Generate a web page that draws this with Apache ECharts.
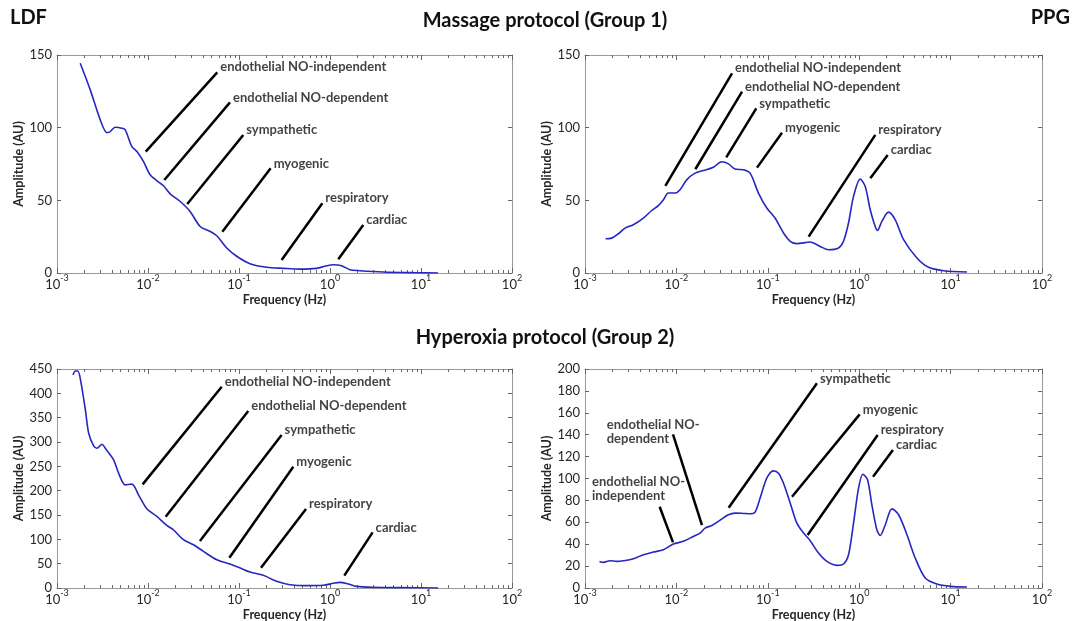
<!DOCTYPE html>
<html><head><meta charset="utf-8">
<script src="https://cdn.jsdelivr.net/npm/echarts@6/dist/echarts.min.js"></script>
<style>html,body{margin:0;padding:0;background:#fff}#c{width:1077px;height:621px}</style>
</head><body><div id="c"></div>
<script>
// ---------- data ----------
const freqLdfMassage = [0.0018,0.00232,0.00299,0.00354,0.00385,0.00436,0.00516,0.00562,0.00665,0.00755,0.00893,0.01056,0.0136,0.0148,0.0175,0.0226,0.029,0.0374,0.0482,0.057,0.0733,0.0944,0.132,0.201,0.307,0.468,0.713,0.879,1.086,1.34,1.65,2.13,3.84,8.9,15.4];
const ampLdfMassage  = [144.3,126,105.3,96.6,97.3,100.3,99.6,98.5,87,83.6,76.7,67.6,61.8,60,54.5,49.2,42.4,32,28.6,25.6,17.2,11.5,6.4,3.9,3.2,2.7,3.2,4.6,5.7,5,2.3,1.6,0.7,0.2,0];

const freqPpgMassage = [0.00168,0.00196,0.00232,0.00274,0.00338,0.00435,0.00537,0.00635,0.00721,0.00817,0.00967,0.01096,0.01297,0.016,0.0198,0.0254,0.0313,0.0371,0.0438,0.0542,0.0641,0.079,0.0975,0.120,0.1485,0.176,0.208,0.291,0.374,0.462,0.594,0.673,0.764,0.867,1.026,1.164,1.32,1.497,1.585,1.77,2.09,2.48,3.06,4.28,5.74,8.38,15.1];
const ampPpgMassage  = [23.6,24,27,30.9,33.2,37.8,43,46.3,50.4,55,55,57.3,64.1,68.7,70.5,72.8,76.5,75.1,71.5,71,68.7,55,44.7,37.8,27.5,21.8,20.2,21.3,18.3,16,17.2,21.8,34.4,52.7,64.6,59.5,43.5,32,29.3,35.5,41.9,36.6,22.9,10.3,3.9,1.6,0.7];

const freqLdfHyper = [0.0015,0.00159,0.00169,0.0018,0.00205,0.00223,0.00252,0.00275,0.00312,0.00339,0.00419,0.00475,0.00562,0.00665,0.00787,0.00972,0.0125,0.0161,0.019,0.0245,0.0316,0.0407,0.057,0.0798,0.103,0.132,0.185,0.259,0.363,0.553,0.843,1.086,1.285,1.585,1.96,2.98,5.85,15.4];
const ampLdfHyper  = [437.7,445.9,445.9,430.9,365.9,318,292.7,287.2,295.4,287.2,263.3,235.9,212,213.4,191.5,162.8,147,128.6,119.7,99.2,88.9,75.2,58.1,49.2,41,32.8,26,13.7,6.8,4.8,5.5,9.6,11.6,8.2,3.4,1.4,0.7,0];

const freqPpgHyper = [0.00144,0.00159,0.00188,0.00222,0.00263,0.00338,0.00435,0.0056,0.0072,0.00927,0.0119,0.01535,0.01816,0.0206,0.0244,0.0301,0.0371,0.0438,0.0542,0.0641,0.0726,0.0824,0.0975,0.115,0.131,0.1485,0.176,0.208,0.246,0.291,0.359,0.443,0.569,0.673,0.764,0.867,0.984,1.097,1.233,1.376,1.56,1.7,1.93,2.28,2.7,3.33,4.1,5.28,7.08,9.91,15.1];
const ampPpgHyper  = [24.3,23.4,24.9,24.3,24.9,26.7,30.4,32.8,35,40.1,42.6,47.1,50.2,54.7,57.1,62,66.9,68.4,68.1,67.8,69.3,82.1,100.3,107,104.9,95.7,77.5,59.3,50.2,43.2,31.9,24.3,20.7,21.9,30.4,59.3,91.2,103.9,98.8,76,53.2,48,57.8,72.3,66.9,48.6,27.4,9.1,3.6,1.5,0.9];

// tick values
const xMajorTicks = [0.001,0.01,0.1,1,10,100];
const xMinorTicks = [];
xMajorTicks.slice(0,-1).forEach(d => { for (let k = 2; k <= 9; k++) xMinorTicks.push(+(d*k).toPrecision(3)); });
const yMaxMassage = 150, yStepMassage = 50;
const yMaxLdfHyper = 450, yStepLdfHyper = 50;
const yMaxPpgHyper = 200, yStepPpgHyper = 20;

// annotations (band names, leader line start/end and text anchor in data units)
const bandNames = ['endothelial NO-independent','endothelial NO-dependent','sympathetic','myogenic','respiratory','cardiac'];
const bandNamesWrapped = ['endothelial NO-\nindependent','endothelial NO-\ndependent','sympathetic','myogenic','respiratory','cardiac'];

const annLdfMassageFrom = [[0.00944,83.5],[0.0151,64.0],[0.0270,47.5],[0.0656,28.4],[0.294,8.9],[1.233,9.4]];
const annLdfMassageTo   = [[0.0577,138.1],[0.0796,117.4],[0.1114,95.0],[0.2228,72.0],[0.824,48.0],[2.32,33.0]];
const annPpgMassageFrom = [[0.00757,59.9],[0.0161,71.4],[0.0351,79.6],[0.0762,72.5],[0.280,25.0],[1.324,65.2]];
const annPpgMassageTo   = [[0.0406,137.4],[0.0523,124.8],[0.0748,113.3],[0.143,96.5],[1.50,95.0],[2.05,81.2]];
const annLdfHyperFrom = [[0.00873,213],[0.01563,146.5],[0.0372,96.6],[0.0784,62.3],[0.1746,41.7],[1.436,25.3]];
const annLdfHyperTo   = [[0.0646,413.7],[0.1264,363.7],[0.294,314.4],[0.395,249.3],[0.545,162.3],[2.94,114.4]];
const annPpgHyperFrom = [[0.00918,41.7],[0.01905,57.5],[0.0373,73.3],[0.184,83.4],[0.273,48.4],[1.416,101.6]];
const annPpgHyperTo   = [[0.00656,74.2],[0.00918,140.4],[0.345,186.9],[1.012,158.6],[1.593,139.7],[2.34,126.0]];
const annPpgHyperText = [[0.001106,85.8],[0.001603,138.2],[0.345,186.9],[1.012,158.6],[1.593,139.7],[2.34,126.0]];

// ---------- chart ----------
const FONT = 'Lato, "Open Sans", sans-serif';
const AXIS_COLOR = '#9a9a9a';
const TEXT_COLOR = '#262626';
const CURVE_COLOR = '#2626c0';

const grids = [
  {left:57, top:55, width:455, height:218},
  {left:585, top:55, width:457, height:218},
  {left:57, top:369, width:455, height:219},
  {left:585, top:369, width:457, height:219}
].map(g => Object.assign({containLabel:false, outerBoundsMode:'none'}, g));

const panels = [
  {freq:freqLdfMassage, amp:ampLdfMassage, yMax:yMaxMassage, yStep:yStepMassage, names:bandNames, from:annLdfMassageFrom, to:annLdfMassageTo, text:annLdfMassageTo},
  {freq:freqPpgMassage, amp:ampPpgMassage, yMax:yMaxMassage, yStep:yStepMassage, names:bandNames, from:annPpgMassageFrom, to:annPpgMassageTo, text:annPpgMassageTo},
  {freq:freqLdfHyper, amp:ampLdfHyper, yMax:yMaxLdfHyper, yStep:yStepLdfHyper, names:bandNames, from:annLdfHyperFrom, to:annLdfHyperTo, text:annLdfHyperTo},
  {freq:freqPpgHyper, amp:ampPpgHyper, yMax:yMaxPpgHyper, yStep:yStepPpgHyper, names:bandNamesWrapped, from:annPpgHyperFrom, to:annPpgHyperTo, text:annPpgHyperText}
];

const xAxes = [], yAxes = [], series = [];
panels.forEach((p, i) => {
  const base = {type:'log', logBase:10, gridIndex:i, min:0.001, max:100, splitLine:{show:false}};
  xAxes.push(Object.assign({}, base, {
    position:'bottom',
    axisLine:{show:true, lineStyle:{color:AXIS_COLOR, width:1}},
    axisTick:{show:true, inside:true, length:5, customValues:xMajorTicks, lineStyle:{color:'#666'}},
    axisLabel:{show:true, customValues:xMajorTicks, margin:1, color:TEXT_COLOR,
      formatter: v => '{b|10}{s|' + Math.round(Math.log10(v)) + '}',
      rich:{
        b:{fontSize:13, fontFamily:FONT, color:TEXT_COLOR, lineHeight:17, verticalAlign:'bottom'},
        s:{fontSize:9, fontFamily:FONT, color:TEXT_COLOR, lineHeight:17, verticalAlign:'top'}
      }},
    name:'Frequency (Hz)', nameLocation:'middle', nameGap:20,
    nameTextStyle:{fontFamily:FONT, fontWeight:'bold', fontSize:12.5, color:TEXT_COLOR}
  }));
  xAxes.push(Object.assign({}, base, {
    position:'bottom', axisLine:{show:false},
    axisTick:{show:true, inside:true, length:3, customValues:xMinorTicks, lineStyle:{color:'#666'}},
    axisLabel:{show:false}
  }));
  xAxes.push(Object.assign({}, base, {
    position:'top',
    axisLine:{show:true, lineStyle:{color:AXIS_COLOR, width:1}},
    axisTick:{show:true, inside:true, length:5, customValues:xMajorTicks, lineStyle:{color:'#666'}},
    axisLabel:{show:false}
  }));
  xAxes.push(Object.assign({}, base, {
    position:'top', axisLine:{show:false},
    axisTick:{show:true, inside:true, length:3, customValues:xMinorTicks, lineStyle:{color:'#666'}},
    axisLabel:{show:false}
  }));
  const ybase = {type:'value', gridIndex:i, min:0, max:p.yMax, interval:p.yStep, splitLine:{show:false}};
  yAxes.push(Object.assign({}, ybase, {
    position:'left',
    axisLine:{show:true, lineStyle:{color:AXIS_COLOR}},
    axisTick:{show:true, inside:true, length:4, lineStyle:{color:'#666'}},
    axisLabel:{show:true, fontSize:13, fontFamily:FONT, color:TEXT_COLOR, margin:5},
    name:'Amplitude (AU)', nameLocation:'middle', nameGap:31, nameRotate:90,
    nameTextStyle:{fontFamily:FONT, fontWeight:'bold', fontSize:12.5, color:TEXT_COLOR}
  }));
  yAxes.push(Object.assign({}, ybase, {
    position:'right',
    axisLine:{show:true, lineStyle:{color:AXIS_COLOR}},
    axisTick:{show:true, inside:true, length:4, lineStyle:{color:'#666'}},
    axisLabel:{show:false}
  }));

  series.push({
    type:'line', xAxisIndex:i*4, yAxisIndex:i*2,
    data:p.freq.map((f, k) => [f, p.amp[k]]),
    smooth:0.3, symbol:'none', silent:true,
    lineStyle:{color:CURVE_COLOR, width:1.6},
    markLine:{
      silent:true, symbol:'none', animation:false,
      label:{show:false},
      lineStyle:{color:'#000', width:2.5, type:'solid'},
      data:p.from.map((a, k) => [{coord:a}, {coord:p.to[k]}])
    },
    z:3
  });
  series.push({
    type:'scatter', xAxisIndex:i*4, yAxisIndex:i*2,
    symbolSize:0, silent:true,
    data:p.text.map((t, k) => ({value:t, name:p.names[k]})),
    label:{show:true, position:'right', distance:0, offset:[3,-5],
      formatter: d => d.name, fontFamily:FONT, fontWeight:'bold', fontSize:13,
      color:'#111', lineHeight:14, align:'left'},
    z:5
  });
});

const titleStyle = (txt, x, y, align) => ({
  type:'text', x:x, y:y,
  style:{text:txt, font:'bold 20px ' + FONT, fill:'#111', textAlign:align, textVerticalAlign:'middle'}
});

const chart = echarts.init(document.getElementById('c'), null, {renderer:'canvas'});
chart.setOption({
  animation:false,
  backgroundColor:'#fff',
  grid:grids,
  xAxis:xAxes,
  yAxis:yAxes,
  series:series,
  graphic:[
    titleStyle('LDF', 10, 18, 'left'),
    titleStyle('Massage protocol (Group 1)', 545, 21, 'center'),
    titleStyle('PPG', 1070, 18, 'right'),
    titleStyle('Hyperoxia protocol (Group 2)', 545, 338, 'center')
  ]
});
</script></body></html>
